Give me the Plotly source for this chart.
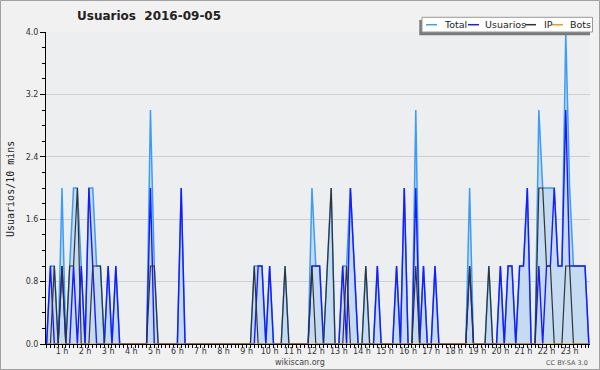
import plotly.graph_objects as go

# ---- data (10-minute bins, index 0..141) ----
hour_labels = ["1 h", "2 h", "3 h", "4 h", "5 h", "6 h", "7 h", "8 h", "9 h", "10 h", "11 h", "12 h",
               "13 h", "14 h", "15 h", "16 h", "17 h", "18 h", "19 h", "20 h", "21 h", "22 h", "23 h"]
hour_label_index = [4, 10, 16, 22, 28, 34, 40, 46, 52, 58, 64, 70,
                    76, 82, 88, 94, 100, 106, 112, 118, 124, 130, 136]

usuarios = [0, 1, 0, 0, 1, 0, 0, 1, 0, 1, 0, 2, 1, 0, 0, 0, 1, 0, 1, 0,
            0, 0, 0, 0, 0, 0, 0, 2, 0, 0, 0, 0, 0, 0, 0, 2, 0, 0, 0, 0,
            0, 0, 0, 0, 0, 0, 0, 0, 0, 0, 0, 0, 0, 0, 0, 1, 1, 0, 1, 0,
            0, 0, 0, 0, 0, 0, 0, 0, 0, 1, 1, 1, 0, 0, 0, 0, 0, 1, 0, 2,
            1, 0, 0, 0, 0, 0, 1, 0, 0, 0, 0, 1, 0, 2, 0, 0, 2, 0, 1, 0,
            0, 1, 0, 0, 0, 0, 0, 0, 0, 0, 1, 0, 0, 0, 0, 0, 0, 0, 1, 0,
            1, 1, 0, 1, 1, 2, 0, 0, 1, 0, 1, 1, 2, 1, 1, 3, 1, 1, 1, 1,
            1, 0]
ip = [0, 0, 1, 0, 1, 0, 1, 1, 2, 0, 0, 0, 1, 1, 1, 0, 0, 0, 0, 0,
      0, 0, 0, 0, 0, 0, 0, 1, 1, 0, 0, 0, 0, 0, 0, 0, 0, 0, 0, 0,
      0, 0, 0, 0, 0, 0, 0, 0, 0, 0, 0, 0, 0, 0, 1, 0, 0, 0, 0, 0,
      0, 0, 1, 0, 0, 0, 0, 0, 0, 1, 0, 0, 0, 1, 2, 0, 0, 0, 1, 0,
      0, 0, 0, 1, 0, 0, 0, 0, 0, 0, 0, 0, 0, 0, 0, 0, 1, 0, 0, 0,
      0, 0, 0, 0, 0, 0, 0, 0, 0, 0, 1, 0, 0, 0, 0, 1, 0, 0, 0, 0,
      0, 0, 0, 0, 0, 0, 0, 0, 2, 2, 1, 1, 0, 0, 0, 1, 1, 0, 0, 0,
      0, 0]
total = [0, 1, 1, 0, 2, 0, 1, 2, 2, 1, 0, 2, 2, 1, 1, 0, 1, 0, 1, 0,
         0, 0, 0, 0, 0, 0, 0, 3, 1, 0, 0, 0, 0, 0, 0, 2, 0, 0, 0, 0,
         0, 0, 0, 0, 0, 0, 0, 0, 0, 0, 0, 0, 0, 0, 1, 1, 1, 0, 1, 0,
         0, 0, 1, 0, 0, 0, 0, 0, 0, 2, 1, 1, 0, 1, 2, 0, 0, 1, 1, 2,
         1, 0, 0, 1, 0, 0, 1, 0, 0, 0, 0, 1, 0, 2, 0, 0, 3, 0, 1, 0,
         0, 1, 0, 0, 0, 0, 0, 0, 0, 0, 2, 0, 0, 0, 0, 1, 0, 0, 1, 0,
         1, 1, 0, 1, 1, 2, 0, 0, 3, 2, 2, 2, 2, 1, 1, 4, 2, 1, 1, 1,
         1, 0]
bots = [0, 0, 0, 0, 0, 0, 0, 0, 0, 0, 0, 0, 0, 0, 0, 0, 0, 0, 0, 0,
        0, 0, 0, 0, 0, 0, 0, 0, 0, 0, 0, 0, 0, 0, 0, 0, 0, 0, 0, 0,
        0, 0, 0, 0, 0, 0, 0, 0, 0, 0, 0, 0, 0, 0, 0, 0, 0, 0, 0, 0,
        0, 0, 0, 0, 0, 0, 0, 0, 0, 0, 0, 0, 0, 0, 0, 0, 0, 0, 0, 0,
        0, 0, 0, 0, 0, 0, 0, 0, 0, 0, 0, 0, 0, 0, 0, 0, 0, 0, 0, 0,
        0, 0, 0, 0, 0, 0, 0, 0, 0, 0, 0, 0, 0, 0, 0, 0, 0, 0, 0, 0,
        0, 0, 0, 0, 0, 0, 0, 0, 0, 0, 0, 0, 0, 0, 0, 0, 0, 0, 0, 0,
        0, 0]
x_idx = list(range(len(total)))

series_names = ["Total", "Usuarios", "IP", "Bots"]
series_colors = ["#3d9cf5", "#1a1aff", "#333333", "#ff9900"]

# ---- layout geometry (pixels) ----
W, H = 600, 370
L, R, T, B = 46, 590, 32, 344


def px(xp):
    return (xp - L) / (R - L)


def py(yp):
    return (B - yp) / (B - T)


fig = go.Figure()
fig.add_trace(go.Scatter(x=x_idx, y=total, mode="lines", name="Total",
                         line=dict(color=series_colors[0], width=1.5),
                         fill="tozeroy", fillcolor="#c4dbf1"))
fig.add_trace(go.Scatter(x=x_idx, y=usuarios, mode="lines", name="Usuarios",
                         line=dict(color=series_colors[1], width=1.4)))
fig.add_trace(go.Scatter(x=x_idx, y=ip, mode="lines", name="IP",
                         line=dict(color=series_colors[2], width=1.2)))
fig.add_trace(go.Scatter(x=x_idx, y=bots, mode="lines", name="Bots",
                         line=dict(color=series_colors[3], width=1)))

base_font = "DejaVu Sans"

fig.update_layout(
    width=W, height=H,
    margin=dict(l=L, r=W - R, t=T, b=H - B, pad=0, autoexpand=False),
    paper_bgcolor="#f1f1f1",
    plot_bgcolor="#edeef0",
    showlegend=False,
    font=dict(family=base_font, size=8, color="#333333"),
    xaxis=dict(
        range=[-0.16, 141.3], automargin=False,
        tickmode="array", tickvals=hour_label_index, ticktext=hour_labels,
        ticks="outside", ticklen=3, tickcolor="black", tickwidth=1,
        ticklabelstandoff=-4,
        showline=True, linecolor="black", linewidth=1,
        showgrid=False, zeroline=False,
        tickfont=dict(family=base_font, size=8, color="#333333"),
        minor=dict(tickmode="linear", tick0=0, dtick=1, ticks="outside",
                   ticklen=3, tickcolor="black", showgrid=False),
    ),
    yaxis=dict(
        range=[0, 4], automargin=False,
        tickmode="linear", tick0=0, dtick=0.8, tickformat=".1f",
        ticks="outside", ticklen=5, tickcolor="black",
        showline=True, linecolor="black", linewidth=1,
        showgrid=True, gridcolor="#cfcfcf", gridwidth=1,
        zeroline=False,
        tickfont=dict(family=base_font, size=8, color="#333333"),
        minor=dict(tickmode="linear", tick0=0, dtick=0.2, ticks="outside",
                   ticklen=3, tickcolor="black", showgrid=False),
    ),
)

shapes = []
annotations = []

# outer border
shapes.append(dict(type="rect", xref="paper", yref="paper",
                   x0=px(0.5), x1=px(599.5), y0=py(369.5), y1=py(0.5),
                   line=dict(color="#a0a0a0", width=1), fillcolor="rgba(0,0,0,0)", layer="below"))

# title
annotations.append(dict(text="<b>Usuarios \u00a02016-09-05</b>", xref="paper", yref="paper",
                        x=px(75), y=py(16), xanchor="left", yanchor="middle", showarrow=False,
                        font=dict(family=base_font, size=12, color="#222222")))

# y-axis title
annotations.append(dict(text="Usuarios/10 mins", xref="paper", yref="paper",
                        x=px(10), y=py(189), xanchor="center", yanchor="middle", showarrow=False,
                        textangle=-90, font=dict(family="DejaVu Sans Mono", size=10, color="#222222")))

# footer texts
annotations.append(dict(text="wikiscan.org", xref="paper", yref="paper",
                        x=px(300), y=py(362), xanchor="center", yanchor="middle", showarrow=False,
                        font=dict(family=base_font, size=8, color="#444444")))
annotations.append(dict(text="CC BY-SA 3.0", xref="paper", yref="paper",
                        x=px(590), y=py(363), xanchor="right", yanchor="middle", showarrow=False,
                        font=dict(family=base_font, size=6.5, color="#555555")))

# custom legend: shadow, box, samples, labels
shapes.append(dict(type="rect", xref="paper", yref="paper",
                   x0=px(419.3), x1=px(590), y0=py(35.3), y1=py(20),
                   line=dict(width=0), fillcolor="#7a7a7a", layer="above"))
shapes.append(dict(type="rect", xref="paper", yref="paper",
                   x0=px(422), x1=px(592.5), y0=py(32), y1=py(17.3),
                   line=dict(color="#999999", width=1), fillcolor="#ffffff", layer="above"))
legend_line_x = [(426, 437), (468, 479), (525, 536), (552, 563)]
legend_text_x = [442, 483, 542, 568]
for name, color, (a, b), tx in zip(series_names, series_colors, legend_line_x, legend_text_x):
    shapes.append(dict(type="line", xref="paper", yref="paper",
                       x0=px(a), x1=px(b), y0=py(24.7), y1=py(24.7),
                       line=dict(color=color, width=1.5), layer="above"))
    annotations.append(dict(text=name, xref="paper", yref="paper",
                            x=px(tx), y=py(24.7), xanchor="left", yanchor="middle", showarrow=False,
                            font=dict(family=base_font, size=9.5, color="#222222")))

fig.update_layout(shapes=shapes, annotations=annotations)

fig.write_html("out.html", config={"displayModeBar": False},
               post_script="document.body.style.margin='0';document.body.style.overflow='hidden';")
